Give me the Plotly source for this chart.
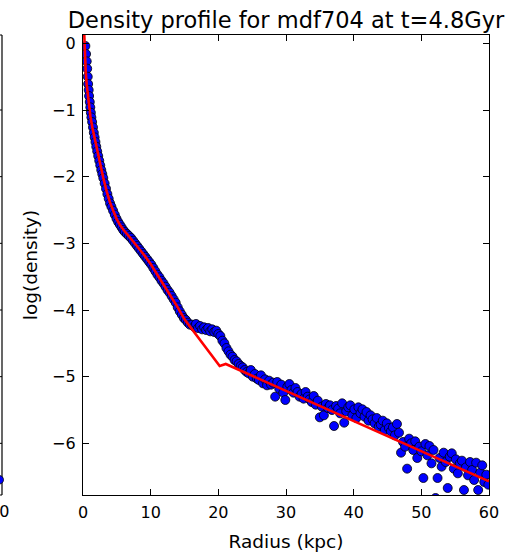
import plotly.graph_objects as go

# ---------------- data ----------------
radius_kpc = [
    0.35, 0.45, 0.55, 0.62, 0.70, 0.76, 0.84, 0.90, 1.00, 1.08,
    1.16, 1.24, 1.35, 1.48, 1.60, 1.72, 1.84, 1.96, 2.10, 2.25,
    2.40, 2.55, 2.70, 2.85, 3.00, 3.20, 3.40, 3.60, 3.80, 4.00,
    4.20, 4.45, 4.70, 4.95, 5.20, 5.45, 5.70, 5.95, 6.20, 6.50,
    6.80, 7.10, 7.40, 7.70, 8.00, 8.30, 8.60, 8.90, 9.20, 9.50,
    9.80, 10.10, 10.40, 10.70, 11.00, 11.30, 11.60, 11.90, 12.20, 12.50,
    12.80, 13.10, 13.40, 13.70, 14.00, 14.30, 14.60, 14.90, 15.20, 15.50,
    15.80, 16.10, 16.40, 16.70, 17.00, 17.30, 17.60, 17.90, 18.20, 18.50,
    18.80, 19.10, 19.40, 19.70, 20.00, 20.30, 20.60, 20.90, 21.20, 21.50,
    21.80, 22.10, 22.40, 22.70, 23.00, 23.30, 23.60, 23.90, 24.20,
    24.5, 24.8, 25.1, 25.4, 25.7, 26.0, 26.3, 26.6, 26.9, 27.2,
    27.5, 27.8, 28.1, 28.4, 28.7, 29.0, 29.3, 29.6, 29.9, 30.2,
    30.5, 30.8, 31.1, 31.4, 31.7, 32.0, 32.3, 32.6, 32.9, 33.2,
    33.5, 33.8, 34.1, 34.4, 34.7, 35.0, 35.3, 35.6, 35.9, 36.2,
    36.5, 36.8, 37.1, 37.4, 37.7, 38.0, 38.3, 38.6, 38.9, 39.2,
    39.5, 39.8, 40.1, 40.4, 40.7, 41.0, 41.3, 41.6, 41.9, 42.2,
    42.5, 42.8, 43.1, 43.4, 43.7, 44.0, 44.3, 44.6, 44.9, 45.2,
    45.5, 45.8, 46.1, 46.4, 46.7, 47.0, 47.3, 47.6, 47.9, 48.2,
    48.5, 48.8, 49.1, 49.4, 49.7, 50.0, 50.3, 50.6, 50.9, 51.2,
    51.5, 51.8, 52.1, 52.4, 52.7, 53.0, 53.3, 53.6, 53.9, 54.2,
    54.5, 54.8, 55.1, 55.4, 55.7, 56.0, 56.3, 56.6, 56.9, 57.2,
    57.5, 57.8, 58.1, 58.4, 58.7, 59.0, 59.3, 59.6, 59.9,
]

log_density = [
    -0.04, -0.16, -0.27, -0.38, -0.50, -0.61, -0.70, -0.79, -0.88, -0.96,
    -1.04, -1.11, -1.18, -1.26, -1.34, -1.41, -1.48, -1.55, -1.62, -1.69,
    -1.76, -1.83, -1.90, -1.96, -2.02, -2.10, -2.18, -2.26, -2.33, -2.40,
    -2.45, -2.51, -2.57, -2.63, -2.68, -2.72, -2.76, -2.80, -2.83, -2.86,
    -2.89, -2.92, -2.96, -3.00, -3.04, -3.08, -3.12, -3.16, -3.20, -3.24,
    -3.28, -3.32, -3.37, -3.42, -3.47, -3.51, -3.56, -3.60, -3.65, -3.70,
    -3.74, -3.79, -3.84, -3.89, -3.96, -4.02, -4.07, -4.12, -4.15, -4.19,
    -4.22, -4.22, -4.25, -4.21, -4.27, -4.24, -4.29, -4.26, -4.30, -4.27,
    -4.32, -4.29, -4.33, -4.31, -4.36, -4.39, -4.46, -4.50, -4.57, -4.62,
    -4.67, -4.70, -4.75, -4.77, -4.81, -4.84, -4.86, -4.90, -4.93,
    -4.95, -4.90, -5.00, -4.96, -5.03, -5.05, -4.98, -5.10, -5.04, -5.13,
    -5.06, -5.12, -5.09, -5.30, -5.08, -5.18, -5.12, -5.24, -5.35, -5.15,
    -5.11, -5.20, -5.24, -5.17, -5.23, -5.30, -5.26, -5.33, -5.23, -5.30,
    -5.34, -5.38, -5.29, -5.42, -5.36, -5.61, -5.45, -5.58, -5.41, -5.47,
    -5.43, -5.50, -5.74, -5.44, -5.48, -5.55, -5.40, -5.69, -5.52, -5.46,
    -5.43, -5.58, -5.49, -5.62, -5.46, -5.55, -5.49, -5.60, -5.53, -5.66,
    -5.58, -5.64, -5.70, -5.62, -5.75, -5.72, -5.66, -5.80, -5.70, -5.77,
    -5.82, -5.76, -5.88, -5.71, -5.84, -6.14, -5.98, -6.05, -6.38, -5.93,
    -6.00, -6.10, -5.97, -6.22, -6.05, -6.12, -6.52, -6.01, -6.18, -6.04,
    -6.30, -6.10, -6.82, -6.52, -6.22, -6.35, -6.14, -6.28, -6.67, -6.20,
    -6.15, -6.38, -6.24, -6.45, -6.30, -6.26, -6.70, -6.36, -6.48, -6.28,
    -6.40, -6.55, -6.29, -6.70, -6.44, -6.33, -6.58, -6.47, -6.62,
]

fit_radius = [0.12, 0.20, 0.30, 0.40, 0.55, 0.70, 0.90, 1.10, 1.40, 1.80,
              2.10, 2.50, 3.00, 3.50, 4.00, 4.50, 5.00, 5.50, 6.00, 7.00,
              8.00, 9.00, 10.00, 11.00, 12.00, 13.00, 14.00, 15.00,
              20.20, 21.10, 60.00]
fit_log_density = [0.30, 0.00, -0.25, -0.42, -0.62, -0.78, -0.96, -1.10, -1.27, -1.46,
                   -1.62, -1.81, -2.02, -2.22, -2.39, -2.52, -2.64, -2.73, -2.80, -2.92,
                   -3.04, -3.17, -3.31, -3.47, -3.62, -3.78, -3.96, -4.14,
                   -4.84, -4.81, -6.57]

x_ticks = [0, 10, 20, 30, 40, 50, 60]
y_ticks = [0, -1, -2, -3, -4, -5, -6]
y_ticktext = ["0", "\u22121", "\u22122", "\u22123", "\u22124", "\u22125", "\u22126"]

TITLE = "Density profile for mdf704 at t=4.8Gyr"
FONT = "DejaVu Sans"

# ---------------- layout geometry (pixels) ----------------
W, H = 511, 552
L, R, T, B = 83, 22, 35, 57
PW = W - L - R
PH = H - T - B


def px_to_paper_x(p):
    return (p - L) / PW


def px_to_paper_y(q):
    return (H - B - q) / PH


fig = go.Figure()

fig.add_trace(go.Scatter(
    x=radius_kpc, y=log_density, mode="markers",
    marker=dict(size=9, color="#0000ff", line=dict(color="black", width=0.8)),
    showlegend=False, hoverinfo="skip",
))
fig.add_trace(go.Scatter(
    x=fit_radius, y=fit_log_density, mode="lines",
    line=dict(color="#ff0000", width=2.6),
    showlegend=False, hoverinfo="skip",
))

axis_common = dict(
    showline=True, linecolor="black", linewidth=1.2, mirror="allticks",
    ticks="inside", ticklen=6, tickwidth=1, tickcolor="black",
    showgrid=False, zeroline=False, automargin=False,
    tickfont=dict(family=FONT, size=16, color="black"),
)

fig.update_xaxes(
    range=[0, 60], tickvals=x_ticks, ticktext=[str(v) for v in x_ticks],
    title=dict(text="Radius (kpc)", font=dict(family=FONT, size=18.5, color="black"), standoff=15),
    ticklabelstandoff=3,
    **axis_common,
)
fig.update_yaxes(
    range=[-6.775, 0.125], tickvals=y_ticks, ticktext=y_ticktext,
    title=dict(text="log(density)", font=dict(family=FONT, size=18.5, color="black"), standoff=9),
    ticklabelstandoff=3,
    **axis_common,
)

# partial neighbouring panel at the far left edge (cut off by the image)
shapes = []
xs = px_to_paper_x(2)
shapes.append(dict(type="line", xref="paper", yref="paper", x0=xs, x1=xs, y0=0, y1=1,
                   line=dict(color="black", width=1.2)))
shapes.append(dict(type="line", xref="paper", yref="paper", x0=px_to_paper_x(-6), x1=xs, y0=1, y1=1,
                   line=dict(color="black", width=1.2)))
shapes.append(dict(type="line", xref="paper", yref="paper", x0=px_to_paper_x(-6), x1=xs, y0=0, y1=0,
                   line=dict(color="black", width=1.2)))
for v in y_ticks[1:]:
    shapes.append(dict(type="line", xref="paper", yref="y", x0=px_to_paper_x(-4), x1=xs, y0=v, y1=v,
                       line=dict(color="black", width=1)))
shapes.append(dict(type="circle", xref="paper", yref="paper",
                   x0=px_to_paper_x(-5), x1=px_to_paper_x(3.5),
                   y0=px_to_paper_y(484), y1=px_to_paper_y(475.5),
                   fillcolor="#0000ff", line=dict(color="black", width=0.8)))

fig.update_layout(
    width=W, height=H,
    margin=dict(l=L, r=R, t=T, b=B, pad=0, autoexpand=False),
    plot_bgcolor="white", paper_bgcolor="white",
    font=dict(family=FONT, color="black"),
    title=dict(text=TITLE, x=0.5, xref="paper", y=1 - 20 / H, yref="container",
               xanchor="center", yanchor="middle",
               font=dict(family=FONT, size=22.5, color="black")),
    shapes=shapes,
    annotations=[dict(text="60", xref="paper", yref="paper", x=px_to_paper_x(10.5), y=px_to_paper_y(512),
                      xanchor="right", yanchor="middle", showarrow=False,
                      font=dict(family=FONT, size=16, color="black"))],
)

fig.write_html("out.html")
